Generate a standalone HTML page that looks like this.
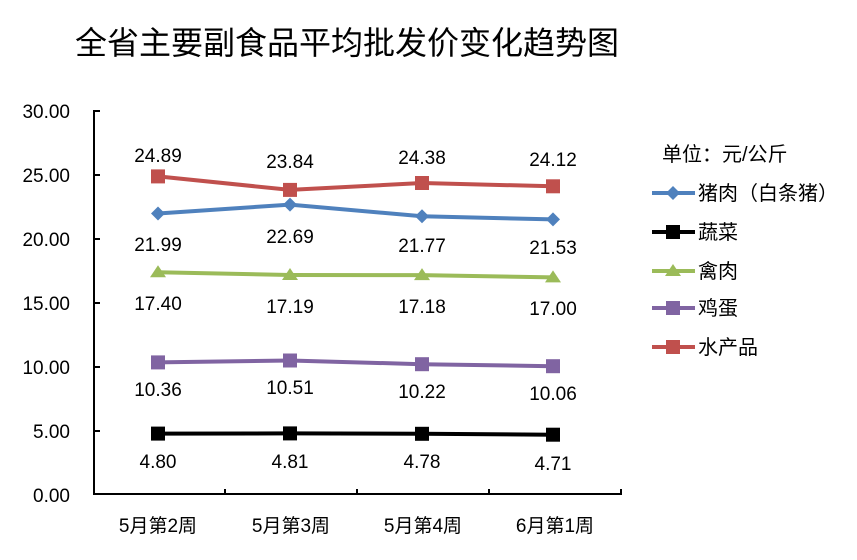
<!DOCTYPE html>
<html><head><meta charset="utf-8"><style>
html,body{margin:0;padding:0;background:#fff}
svg text{font-family:"Liberation Sans","Noto Sans CJK SC",sans-serif;fill:#000}
</style></head><body>
<svg width="857" height="555" viewBox="0 0 857 555" xmlns="http://www.w3.org/2000/svg">
<rect width="857" height="555" fill="#fff"/>
<text x="75" y="54" font-size="32">全省主要副食品平均批发价变化趋势图</text>
<g stroke="#000" stroke-width="2" fill="none">
<line x1="94" y1="110" x2="94" y2="495"/>
<line x1="93" y1="494" x2="622" y2="494"/>
<line x1="94" y1="111" x2="100" y2="111"/>
<line x1="94" y1="175" x2="100" y2="175"/>
<line x1="94" y1="239" x2="100" y2="239"/>
<line x1="94" y1="303" x2="100" y2="303"/>
<line x1="94" y1="367" x2="100" y2="367"/>
<line x1="94" y1="431" x2="100" y2="431"/>
<line x1="225" y1="494" x2="225" y2="489"/>
<line x1="357" y1="494" x2="357" y2="489"/>
<line x1="489" y1="494" x2="489" y2="489"/>
<line x1="621" y1="494" x2="621" y2="489"/>
</g>
<g font-size="19" text-anchor="end">
<text x="70" y="118">30.00</text>
<text x="70" y="182">25.00</text>
<text x="70" y="246">20.00</text>
<text x="70" y="310">15.00</text>
<text x="70" y="374">10.00</text>
<text x="70" y="438">5.00</text>
<text x="70" y="502">0.00</text>
</g>
<g font-size="19" text-anchor="middle">
<text x="158" y="532">5月第2周</text>
<text x="291" y="532">5月第3周</text>
<text x="423" y="532">5月第4周</text>
<text x="555" y="532">6月第1周</text>
</g>
<g fill="none" stroke-width="4">
<polyline stroke="#c0504d" points="158,176.4 290,189.9 422,183 553,186.3"/>
<polyline stroke="#4f81bd" points="158,213.5 290,204.6 422,216.3 553,219.4"/>
<polyline stroke="#9bbb59" points="158,272.3 290,275 422,275.1 553,277.4"/>
<polyline stroke="#8064a2" points="158,362.4 290,360.5 422,364.2 553,366.2"/>
<polyline stroke="#000" points="158,433.6 290,433.4 422,433.8 553,434.7"/>
</g>
<g fill="#c0504d"><rect x="151" y="169.4" width="14" height="14"/><rect x="283" y="182.9" width="14" height="14"/><rect x="415" y="176" width="14" height="14"/><rect x="546" y="179.3" width="14" height="14"/></g>
<g fill="#4f81bd"><path d="M158 206.5l7 7-7 7-7-7z"/><path d="M290 197.6l7 7-7 7-7-7z"/><path d="M422 209.3l7 7-7 7-7-7z"/><path d="M553 212.4l7 7-7 7-7-7z"/></g>
<g fill="#9bbb59"><path d="M158 265.3l8 12h-16z"/><path d="M290 268l8 12h-16z"/><path d="M422 268.1l8 12h-16z"/><path d="M553 270.4l8 12h-16z"/></g>
<g fill="#8064a2"><rect x="151" y="355.4" width="14" height="14"/><rect x="283" y="353.5" width="14" height="14"/><rect x="415" y="357.2" width="14" height="14"/><rect x="546" y="359.2" width="14" height="14"/></g>
<g fill="#000"><rect x="151" y="426.6" width="14" height="14"/><rect x="283" y="426.4" width="14" height="14"/><rect x="415" y="426.8" width="14" height="14"/><rect x="546" y="427.7" width="14" height="14"/></g>
<g font-size="19" text-anchor="middle">
<text x="158" y="162">24.89</text><text x="290" y="168">23.84</text><text x="422" y="164">24.38</text><text x="553" y="166">24.12</text>
<text x="158" y="251">21.99</text><text x="290" y="243">22.69</text><text x="422" y="252">21.77</text><text x="553" y="254">21.53</text>
<text x="158" y="310">17.40</text><text x="290" y="313">17.19</text><text x="422" y="313">17.18</text><text x="553" y="315">17.00</text>
<text x="158" y="396">10.36</text><text x="290" y="394">10.51</text><text x="422" y="398">10.22</text><text x="553" y="400">10.06</text>
<text x="158" y="468">4.80</text><text x="290" y="468">4.81</text><text x="422" y="468">4.78</text><text x="553" y="470">4.71</text>
</g>
<text x="662" y="161" font-size="20">单位：元/公斤</text>
<g stroke-width="4">
<line x1="652" y1="193" x2="695" y2="193" stroke="#4f81bd"/>
<line x1="652" y1="232" x2="695" y2="232" stroke="#000"/>
<line x1="652" y1="271" x2="695" y2="271" stroke="#9bbb59"/>
<line x1="652" y1="308" x2="695" y2="308" stroke="#8064a2"/>
<line x1="652" y1="347" x2="695" y2="347" stroke="#c0504d"/>
</g>
<path d="M673 186l7 7-7 7-7-7z" fill="#4f81bd"/>
<rect x="666" y="225" width="14" height="14" fill="#000"/>
<path d="M673 264l8 12h-16z" fill="#9bbb59"/>
<rect x="666" y="301" width="14" height="14" fill="#8064a2"/>
<rect x="666" y="340" width="14" height="14" fill="#c0504d"/>
<g font-size="20">
<text x="698" y="200">猪肉（白条猪）</text>
<text x="698" y="239">蔬菜</text>
<text x="698" y="278">禽肉</text>
<text x="698" y="315">鸡蛋</text>
<text x="698" y="354">水产品</text>
</g>
</svg>
</body></html>
